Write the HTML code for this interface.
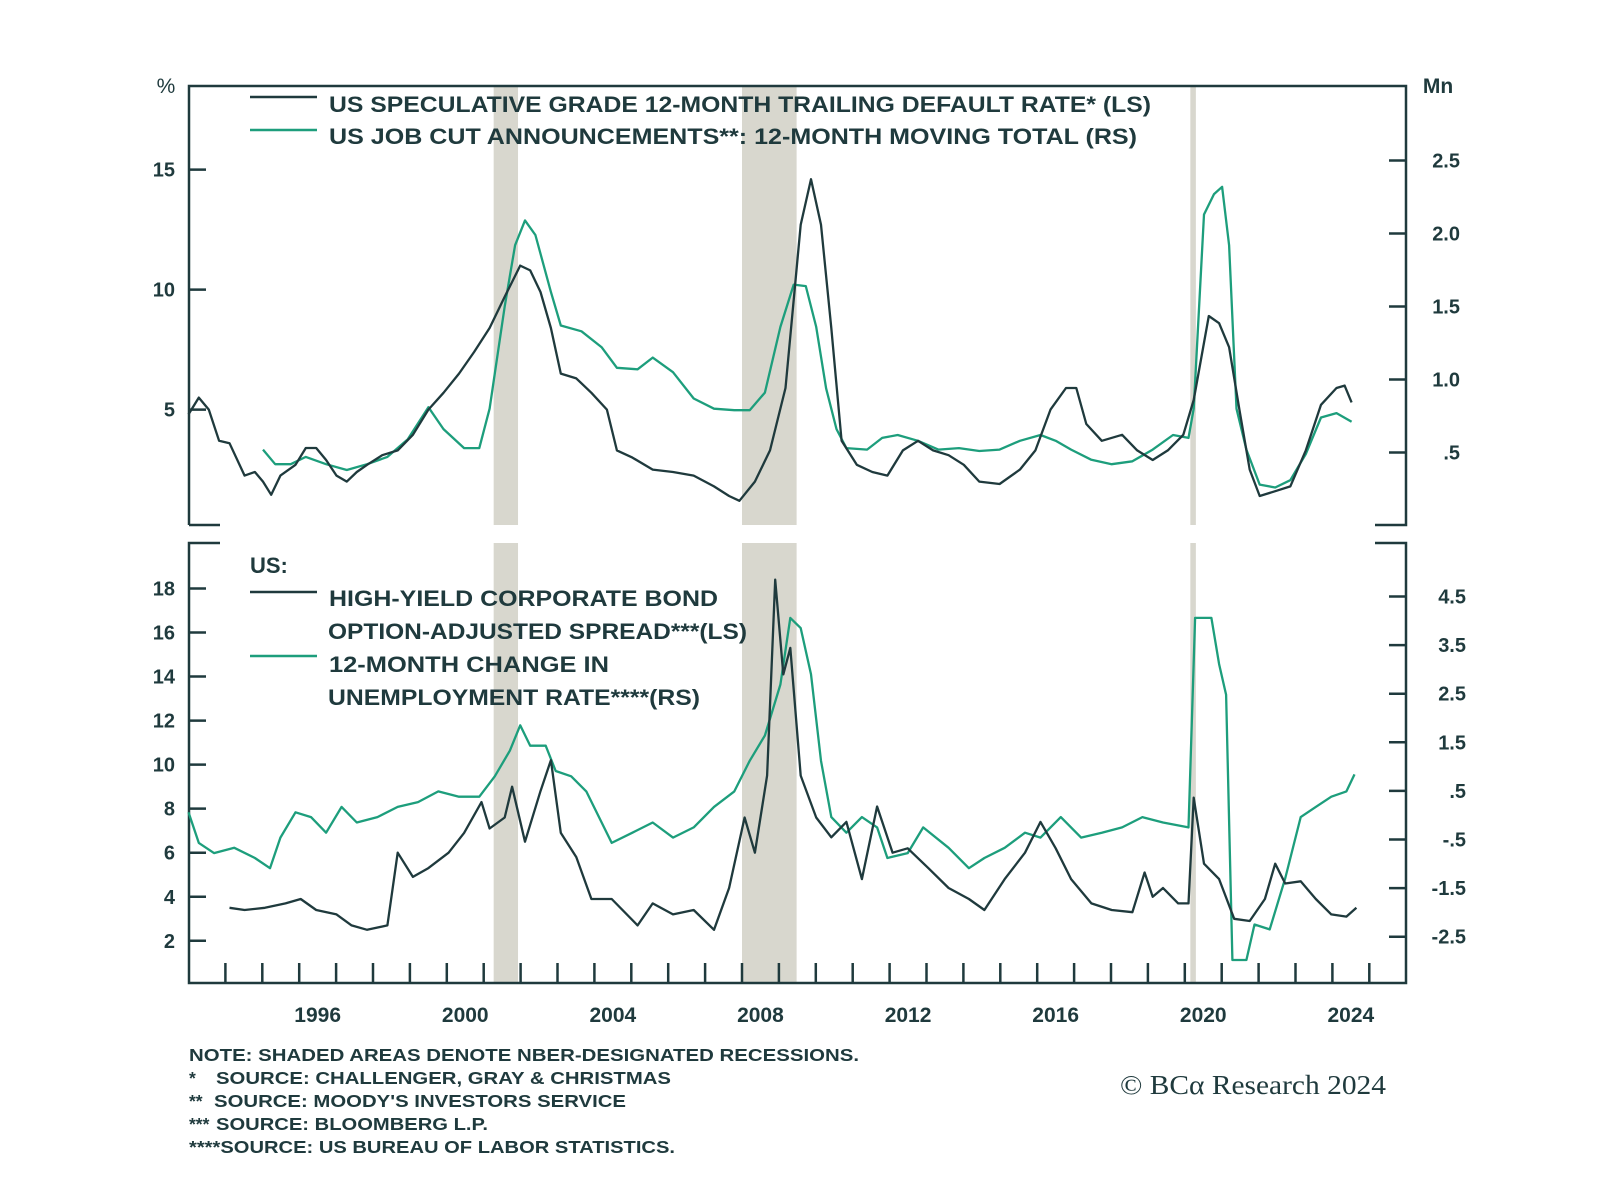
<!DOCTYPE html>
<html><head><meta charset="utf-8"><style>
html,body{margin:0;padding:0;background:#fff;}
svg{display:block;}
text{font-family:"Liberation Sans",sans-serif;fill:#1f3a3d;}
</style></head><body>
<svg id="chart" width="1600" height="1193" viewBox="0 0 1600 1193" xmlns="http://www.w3.org/2000/svg">
<g id="recessions"></g>
<g id="frames" stroke="#1f3a3d" stroke-width="2.5" fill="none">
  <path d="M189,525 H220 M189,525 V86 H1406 V525 H1375"/>
  <path d="M220,543 H189 V983 H1406 V543 H1375"/>
</g>
<g id="ticks" stroke="#1f3a3d" stroke-width="2.5"></g>
<g id="labels" font-size="20" font-weight="bold"></g>
<g id="series" fill="none" stroke-width="2.3" stroke-linejoin="round"></g>
<g font-size="22" font-weight="bold">
  <line x1="250" y1="97" x2="317" y2="97" stroke="#1f3a3d" stroke-width="2.5"/>
  <text x="329" y="112" textLength="822" lengthAdjust="spacingAndGlyphs">US SPECULATIVE GRADE 12-MONTH TRAILING DEFAULT RATE* (LS)</text>
  <line x1="250" y1="130" x2="317" y2="130" stroke="#1d9e7c" stroke-width="2.5"/>
  <text x="329" y="144" textLength="808" lengthAdjust="spacingAndGlyphs">US JOB CUT ANNOUNCEMENTS**: 12-MONTH MOVING TOTAL (RS)</text>
</g>
<g font-size="22" font-weight="bold">
  <text x="250" y="573">US:</text>
  <line x1="250" y1="592" x2="317" y2="592" stroke="#1f3a3d" stroke-width="2.5"/>
  <text x="329" y="606" textLength="389" lengthAdjust="spacingAndGlyphs">HIGH-YIELD CORPORATE BOND</text>
  <text x="328" y="639" textLength="419" lengthAdjust="spacingAndGlyphs">OPTION-ADJUSTED SPREAD***(LS)</text>
  <line x1="250" y1="656" x2="317" y2="656" stroke="#1d9e7c" stroke-width="2.5"/>
  <text x="329" y="672" textLength="280" lengthAdjust="spacingAndGlyphs">12-MONTH CHANGE IN</text>
  <text x="328" y="705" textLength="372" lengthAdjust="spacingAndGlyphs">UNEMPLOYMENT RATE****(RS)</text>
</g>
<text x="166" y="93" font-size="21" text-anchor="middle">%</text>
<text x="1438" y="93" font-size="21" font-weight="bold" text-anchor="middle">Mn</text>
<g font-size="17.5" font-weight="bold">
  <text x="189" y="1061" textLength="670" lengthAdjust="spacingAndGlyphs">NOTE: SHADED AREAS DENOTE NBER-DESIGNATED RECESSIONS.</text>
  <text x="189" y="1084">*</text>
  <text x="216" y="1084" textLength="455" lengthAdjust="spacingAndGlyphs">SOURCE: CHALLENGER, GRAY &amp; CHRISTMAS</text>
  <text x="189" y="1107">**</text>
  <text x="214" y="1107" textLength="412" lengthAdjust="spacingAndGlyphs">SOURCE: MOODY'S INVESTORS SERVICE</text>
  <text x="189" y="1130">***</text>
  <text x="216" y="1130" textLength="272" lengthAdjust="spacingAndGlyphs">SOURCE: BLOOMBERG L.P.</text>
  <text x="189" y="1153" textLength="486" lengthAdjust="spacingAndGlyphs">****SOURCE: US BUREAU OF LABOR STATISTICS.</text>
</g>
<text x="1120" y="1094" font-size="27" textLength="266" lengthAdjust="spacingAndGlyphs" style="font-family:'Liberation Serif',serif">© BCα Research 2024</text>
</svg>
<script>
const recessionStarts = [2001.27, 2008.0, 2020.15];
const recessionEnds = [2001.93, 2009.48, 2020.3];
const yearLabels = [1996, 2000, 2004, 2008, 2012, 2016, 2020, 2024];
const topLeftTicks = [15, 10, 5];
const topRightTicks = [2.5, 2.0, 1.5, 1.0, 0.5];
const topRightTickLabels = ["2.5", "2.0", "1.5", "1.0", ".5"];
const botLeftTicks = [18, 16, 14, 12, 10, 8, 6, 4, 2];
const botRightTicks = [4.5, 3.5, 2.5, 1.5, 0.5, -0.5, -1.5, -2.5];
const botRightTickLabels = ["4.5", "3.5", "2.5", "1.5", ".5", "-.5", "-1.5", "-2.5"];

const defaultDates = [1993.00,1993.28,1993.55,1993.83,1994.11,1994.52,1994.80,1995.02,1995.24,1995.49,1995.90,1996.18,1996.46,1996.73,1997.01,1997.29,1997.56,1997.84,1998.25,1998.67,1999.08,1999.50,1999.91,2000.33,2000.74,2001.16,2001.57,2001.99,2002.26,2002.54,2002.82,2003.09,2003.51,2003.92,2004.34,2004.61,2005.03,2005.58,2006.13,2006.69,2007.24,2007.65,2007.93,2008.35,2008.76,2009.18,2009.59,2009.87,2010.14,2010.42,2010.70,2011.11,2011.53,2011.94,2012.36,2012.77,2013.18,2013.60,2014.01,2014.43,2014.98,2015.53,2015.95,2016.36,2016.78,2017.06,2017.33,2017.75,2018.30,2018.71,2019.13,2019.54,2019.96,2020.24,2020.65,2020.93,2021.20,2021.48,2021.76,2022.03,2022.45,2022.86,2023.28,2023.69,2024.11,2024.33,2024.52];
const defaultRate = [4.8,5.5,5.0,3.7,3.6,2.25,2.4,2.0,1.45,2.25,2.7,3.4,3.4,2.9,2.25,2.0,2.4,2.7,3.1,3.3,3.95,5.0,5.7,6.5,7.4,8.4,9.7,11.0,10.8,9.9,8.4,6.5,6.3,5.7,5.0,3.3,3.0,2.5,2.4,2.25,1.8,1.4,1.2,2.0,3.3,5.9,12.7,14.6,12.7,8.4,3.7,2.7,2.4,2.25,3.3,3.7,3.3,3.1,2.7,2.0,1.9,2.5,3.3,5.0,5.9,5.9,4.4,3.7,3.95,3.3,2.9,3.3,3.95,5.4,8.9,8.6,7.6,5.0,2.5,1.4,1.6,1.8,3.3,5.2,5.9,6.0,5.3];

const jobCutDates = [1995.02,1995.35,1995.77,1996.18,1996.73,1997.29,1997.84,1998.39,1998.94,1999.50,1999.91,2000.47,2000.88,2001.16,2001.57,2001.85,2002.12,2002.40,2002.82,2003.09,2003.65,2004.20,2004.61,2005.17,2005.58,2006.13,2006.69,2007.24,2007.79,2008.21,2008.62,2009.04,2009.40,2009.73,2010.01,2010.28,2010.56,2010.83,2011.39,2011.80,2012.22,2012.77,2013.32,2013.88,2014.43,2014.98,2015.53,2016.09,2016.50,2016.92,2017.47,2018.02,2018.58,2019.13,2019.68,2020.10,2020.24,2020.52,2020.79,2021.01,2021.20,2021.40,2021.67,2022.03,2022.45,2022.86,2023.28,2023.69,2024.11,2024.52];
const jobCuts = [0.52,0.42,0.42,0.47,0.42,0.38,0.42,0.47,0.59,0.81,0.66,0.53,0.53,0.80,1.50,1.92,2.09,1.99,1.60,1.37,1.33,1.22,1.08,1.07,1.15,1.05,0.87,0.80,0.79,0.79,0.91,1.36,1.65,1.64,1.36,0.94,0.66,0.53,0.52,0.60,0.62,0.58,0.52,0.53,0.51,0.52,0.58,0.62,0.58,0.52,0.45,0.42,0.44,0.52,0.62,0.60,0.80,2.13,2.27,2.32,1.92,0.80,0.52,0.28,0.26,0.31,0.49,0.74,0.77,0.71];

const spreadDates = [1994.11,1994.52,1995.07,1995.63,1996.04,1996.46,1997.01,1997.42,1997.84,1998.39,1998.67,1999.08,1999.50,2000.05,2000.47,2000.94,2001.16,2001.57,2001.77,2002.12,2002.54,2002.82,2003.09,2003.51,2003.92,2004.47,2005.17,2005.58,2006.13,2006.69,2007.24,2007.65,2008.07,2008.35,2008.68,2008.90,2009.12,2009.31,2009.59,2010.01,2010.42,2010.83,2011.25,2011.66,2012.08,2012.49,2013.05,2013.60,2014.15,2014.57,2015.12,2015.67,2016.09,2016.50,2016.92,2017.47,2018.02,2018.58,2018.91,2019.13,2019.41,2019.82,2020.10,2020.24,2020.52,2020.93,2021.34,2021.76,2022.17,2022.45,2022.72,2023.14,2023.55,2023.97,2024.38,2024.65];
const hySpread = [3.5,3.4,3.5,3.7,3.9,3.4,3.2,2.7,2.5,2.7,6.0,4.9,5.3,6.0,6.9,8.3,7.1,7.6,9.0,6.5,8.8,10.2,6.9,5.8,3.9,3.9,2.7,3.7,3.2,3.4,2.5,4.4,7.6,6.0,9.5,18.4,14.1,15.3,9.5,7.6,6.7,7.4,4.8,8.1,6.0,6.2,5.3,4.4,3.9,3.4,4.8,6.0,7.4,6.2,4.8,3.7,3.4,3.3,5.1,4.0,4.4,3.7,3.7,8.5,5.5,4.8,3.0,2.9,3.9,5.5,4.6,4.7,3.9,3.2,3.1,3.5];

const unempDates = [1993.00,1993.28,1993.69,1994.24,1994.80,1995.21,1995.49,1995.90,1996.32,1996.73,1997.15,1997.56,1998.12,1998.67,1999.22,1999.77,2000.33,2000.88,2001.30,2001.71,2001.99,2002.26,2002.68,2002.95,2003.37,2003.78,2004.47,2005.03,2005.58,2006.13,2006.69,2007.24,2007.79,2008.21,2008.62,2009.04,2009.31,2009.59,2009.87,2010.14,2010.42,2010.83,2011.25,2011.66,2011.94,2012.49,2012.91,2013.60,2014.15,2014.57,2015.12,2015.67,2016.09,2016.64,2017.19,2017.75,2018.30,2018.85,2019.41,2020.10,2020.28,2020.72,2020.93,2021.12,2021.29,2021.67,2021.89,2022.30,2022.72,2023.14,2023.55,2023.97,2024.38,2024.60];
const unempChange = [0.06,-0.57,-0.78,-0.67,-0.88,-1.09,-0.46,0.06,-0.04,-0.36,0.17,-0.15,-0.04,0.17,0.27,0.49,0.38,0.38,0.80,1.33,1.85,1.43,1.43,0.91,0.80,0.49,-0.57,-0.36,-0.15,-0.46,-0.25,0.17,0.49,1.12,1.64,2.69,4.06,3.85,2.90,1.12,-0.04,-0.36,-0.04,-0.25,-0.88,-0.78,-0.25,-0.67,-1.09,-0.88,-0.67,-0.36,-0.46,-0.04,-0.46,-0.36,-0.25,-0.04,-0.15,-0.25,4.06,4.06,3.11,2.48,-2.98,-2.98,-2.25,-2.35,-1.30,-0.04,0.17,0.38,0.49,0.84];

const NS = "http://www.w3.org/2000/svg";
const DARK = "#1f3a3d", GREEN = "#1d9e7c";
function xS(y){ return 188.5 + (y - 1993) * 36.9; }
function yTopL(v){ return 529.6 - v * 24; }
function yTopR(v){ return 525.5 - v * 146; }
function yBotL(v){ return 940.8 - (v - 2) * 22.02; }
function yBotR(v){ return 596.5 + (4.5 - v) * 48.6; }
function mk(tag, attrs, parent){
  const e = document.createElementNS(NS, tag);
  for (const k in attrs) e.setAttribute(k, attrs[k]);
  parent.appendChild(e); return e;
}
const gRec = document.getElementById('recessions');
recessionStarts.forEach((s, i) => {
  const x0 = xS(s), x1 = xS(recessionEnds[i]);
  const r1 = mk('rect', {x: x0, y: 86, width: x1 - x0, height: 439, fill: '#d8d7ce'}, gRec);
  
  
  const r2 = mk('rect', {x: x0, y: 543, width: x1 - x0, height: 440, fill: '#d8d7ce'}, gRec);
  
  
});
const gT = document.getElementById('ticks');
const gL = document.getElementById('labels');
for (let yr = 1994; yr <= 2025; yr++) {
  const t = mk('line', {x1: xS(yr), x2: xS(yr), y1: 963, y2: 983}, gT);
  
  
}
yearLabels.forEach(yr => {
  const t = mk('text', {x: xS(yr + 0.5), y: 1022, 'text-anchor': 'middle', 'font-size': 21}, gL);
  t.textContent = yr;
  
  
});
function leftAxis(vals, fn){
  vals.forEach(v => {
    const y = fn(v);
    const l = mk('line', {x1: 189, x2: 206, y1: y, y2: y}, gT);
    
    
    const t = mk('text', {x: 175, y: y + 7, 'text-anchor': 'end'}, gL);
    t.textContent = v;
    
    
  });
}
function rightAxis(vals, labels, fn, xr){
  vals.forEach((v, i) => {
    const y = fn(v);
    const l = mk('line', {x1: 1389, x2: 1406, y1: y, y2: y}, gT);
    
    
    const t = mk('text', {x: xr, y: y + 7, 'text-anchor': 'end'}, gL);
    t.textContent = labels[i];
    
    
  });
}
leftAxis(topLeftTicks, yTopL);
rightAxis(topRightTicks, topRightTickLabels, yTopR, 1460);
leftAxis(botLeftTicks, yBotL);
rightAxis(botRightTicks, botRightTickLabels, yBotR, 1466);
const gS = document.getElementById('series');
function line(dates, vals, fn, color, name){
  const d = dates.map((t, i) => (i ? 'L' : 'M') + xS(t).toFixed(1) + ',' + fn(vals[i]).toFixed(1)).join(' ');
  const p = mk('path', {d: d, stroke: color}, gS);
  
  
}
line(jobCutDates, jobCuts, yTopR, GREEN, 'job-cuts-line');
line(defaultDates, defaultRate, yTopL, DARK, 'default-rate-line');
line(unempDates, unempChange, yBotR, GREEN, 'unemployment-change-line');
line(spreadDates, hySpread, yBotL, DARK, 'hy-spread-line');
</script>
</body></html>
